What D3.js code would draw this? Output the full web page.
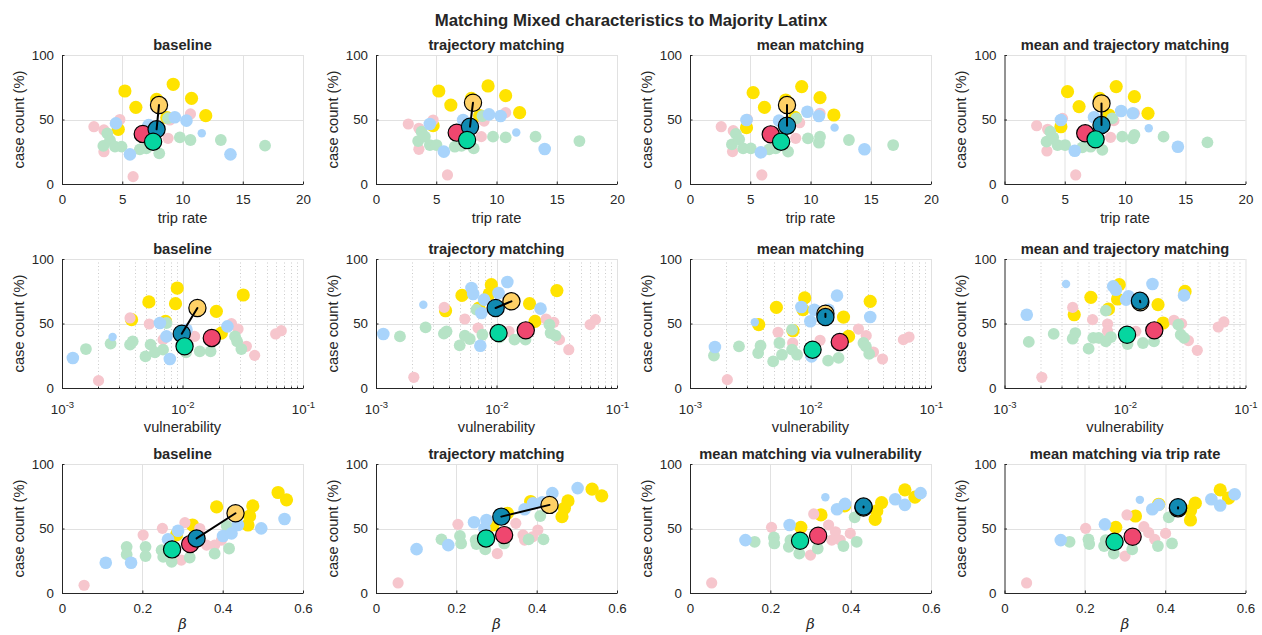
<!DOCTYPE html>
<html>
<head>
<meta charset="utf-8">
<script src="https://cdn.jsdelivr.net/npm/d3@7"></script>
<style>
  body { margin: 0; background: #fff; }
  svg { display: block; }
  text { font-family: "Liberation Sans", Arial, Helvetica, sans-serif; fill: #262626; }
</style>
</head>
<body>
<svg id="chart" width="1262" height="635"></svg>
<script>
// ---------------------------------------------------------------
// Data: each point is [x, case count %, (optional) relative weight]
// Groups: latinx (majority Latinx), mixed, otherA, otherB
// Mean markers per panel: [latinx, mixed, otherA, otherB]
// ---------------------------------------------------------------
const suptitle = "Matching Mixed characteristics to Majority Latinx";
const panelTitles = [
  "baseline", "trajectory matching", "mean matching", "mean and trajectory matching",
  "baseline", "trajectory matching", "mean matching", "mean and trajectory matching",
  "baseline", "trajectory matching", "mean matching via vulnerability", "mean matching via trip rate"
];
const xLabels = ["trip rate", "vulnerability", "\u03B2"];
const yLabel = "case count (%)";
const yTicks = [0, 50, 100];
const tripTicks = [0, 5, 10, 15, 20];
const vulnTicks = [1e-3, 1e-2, 1e-1];
const betaTicks = [0, 0.2, 0.4, 0.6];

// ---- row 1: trip rate ----
const tripBase_latinx = [[5.22,72.1],[9.23,77.3],[6.13,59.4],[10.75,66.4],[11.93,53.0],[7.85,65.6],[4.67,42.4],[8.7,51.5]];
const tripBase_mixed  = [[4.48,47],[5.64,23],[7.2,45.7],[9.36,51.7],[10.33,49.1],[11.6,39.3,0.45],[13.98,23]];
const tripBase_otherA = [[2.65,44.4],[3.48,41.9],[3.48,25],[4.8,50],[5.9,5.7],[8.8,35.4],[8.95,49.6],[10.66,54.3],[6.9,40]];
const tripBase_otherB = [[3.43,29.5],[3.76,39.3],[3.98,34],[4.4,29],[4.94,29],[6.46,26.9],[7.0,27.6],[8.07,23.8],[8.8,51],[9.78,36.2],[10.66,34.1],[13.18,34.1],[16.85,29.7]];
const tripBase_means  = [[8.05,61.2],[7.85,42.4],[6.7,38.8],[7.56,32.8]];

const tripTraj_latinx = [[5.21,72.1],[9.3,76],[6.21,61.2],[10.76,68.5],[11.92,55.3],[7.92,66.4],[4.74,45.2],[8.6,53]];
const tripTraj_mixed  = [[4.47,46.5],[5.63,25.1],[7.23,49.6],[9.38,54],[10.34,52.7],[11.64,40,0.45],[14.0,27.1]];
const tripTraj_otherA = [[2.68,46.5],[3.56,43.2],[3.56,26.9],[4.74,49.6],[5.93,7],[8.74,36.7],[8.97,48.8],[10.76,55.3]];
const tripTraj_otherB = [[3.5,33.3],[3.78,40.6],[4.06,36.7],[4.47,30.2],[5.02,30.2],[6.54,28.9],[7.09,29.5],[8.11,27.6],[8.83,52.7],[9.71,36.7],[10.76,36.2],[13.24,36.7],[16.88,33.3]];
const tripTraj_means  = [[8.05,63],[7.8,44.4],[6.7,39.8],[7.56,34.1]];

const tripMean_latinx = [[5.24,70.8],[9.27,75.5],[6.18,59.4],[10.79,66.9],[11.94,53.5],[7.94,65.1],[4.69,43.7],[8.7,51.7]];
const tripMean_mixed  = [[4.69,49.6],[5.88,24.5],[7.39,49.1],[9.74,56],[10.7,52.7],[12.0,43.7,0.45],[14.48,26.9]];
const tripMean_otherA = [[2.59,44.4],[3.59,41.3],[3.53,25.1],[4.77,50.1],[5.96,7],[8.77,35.4],[9.1,47.5],[10.79,54.8]];
const tripMean_otherB = [[3.48,30.7],[3.81,38.8],[4.08,34.6],[4.41,27.6],[5.05,27.6],[6.57,26.9],[7.12,27.6],[8.14,25.1],[8.83,50.9],[9.79,35.4],[10.7,32],[10.79,36.7],[13.19,34.1],[16.86,30.2]];
const tripMean_means  = [[8.05,61.2],[8.05,45.2],[6.7,38.5],[7.56,32.8]];

const tripBoth_latinx = [[5.23,71.6],[9.27,75.5],[6.19,60],[10.78,67.7],[11.91,54.8],[7.9,66.4],[4.68,44.4],[8.67,53.5]];
const tripBoth_mixed  = [[4.68,49.6],[5.83,25.8],[7.43,51.7],[9.68,56.6],[10.65,54.8],[11.97,43.2,0.45],[14.39,28.9]];
const tripBoth_otherA = [[2.67,45.2],[3.58,42.4],[3.52,25.6],[4.81,50.9],[5.91,7],[8.8,36.2],[9.08,49.1],[10.78,54.8]];
const tripBoth_otherB = [[3.49,32.8],[3.8,40.6],[4.04,36.2],[4.4,30.2],[5.03,30.2],[6.46,28.4],[7.15,28.9],[8.12,26.4],[8.94,50.9],[9.77,36.7],[10.65,35.4],[10.78,38],[13.2,36.7],[16.84,32.3]];
const tripBoth_means  = [[8.05,62.5],[8.05,45.7],[6.7,39.3],[7.56,34.6]];

// ---- row 2: vulnerability ----
const vulnBase_latinx = [[0.00526,66.7],[0.00904,77.5],[0.00875,65.4],[0.0191,59.4],[0.0319,72.1],[0.00378,53],[0.00723,51.7],[0.021,42.6]];
const vulnBase_mixed  = [[0.00123,23.3],[0.00263,39.5,0.45],[0.00649,50.4],[0.00736,40],[0.00785,22.5],[0.0108,45.2],[0.0236,47.8]];
const vulnBase_otherA = [[0.00201,5.7],[0.00367,54.3],[0.0053,49.6],[0.0069,37.5],[0.0126,40],[0.0255,49.9],[0.0289,45.7],[0.0339,32.3],[0.0397,25.3],[0.0593,41.9],[0.066,44.4]];
const vulnBase_otherB = [[0.00158,30.2],[0.00253,34.4],[0.00367,33.6],[0.00386,36.2],[0.00493,24.5],[0.00543,33.6],[0.0059,27.6],[0.0069,29.7],[0.00736,50.4],[0.0107,27.6],[0.0139,28.4],[0.0171,28.4],[0.0273,40],[0.0284,36.2],[0.0308,30.2]];
const vulnBase_means  = [[0.0133,62],[0.00986,42.1],[0.0175,38.8],[0.0104,32.3]];

const vulnTraj_latinx = [[0.00517,71.8],[0.00906,80.1],[0.0087,73],[0.00378,59.9],[0.0188,65.4],[0.0317,75.5],[0.0209,51.7],[0.00716,62]];
const vulnTraj_mixed  = [[0.00115,41.9],[0.00247,64.6,0.45],[0.0062,77.5],[0.0064,72.9],[0.00789,68.5],[0.00749,58.1],[0.00734,32.8],[0.0104,73.6],[0.0123,82.2],[0.0232,61.5]];
const vulnTraj_otherA = [[0.00206,8.3],[0.00368,62.5],[0.00546,53.5],[0.00703,46.5],[0.0127,43.9],[0.0258,53.5],[0.0299,50.9],[0.0333,37.5],[0.0398,29.7],[0.0598,49.1],[0.0662,53]];
const vulnTraj_otherB = [[0.00158,40],[0.00258,47],[0.00366,42.1],[0.00385,43.9],[0.00495,33.1],[0.00546,40.6],[0.006,38],[0.00681,60.7],[0.00764,41.3],[0.0106,39.3],[0.0141,37.5],[0.0174,37.5],[0.0275,49.1],[0.0281,42.6],[0.0309,40.6]];
const vulnTraj_means  = [[0.0133,67.2],[0.00984,62],[0.0175,44.7],[0.0104,42.6]];

const vulnMean_latinx = [[0.00521,62.5],[0.00895,69.8],[0.00867,60.7],[0.0188,55],[0.0313,67.2],[0.00372,49.1],[0.00716,44.4],[0.0207,40]];
const vulnMean_mixed  = [[0.00161,31.8],[0.00345,50.9,0.45],[0.0084,62.8],[0.00997,51.7],[0.01076,60.7],[0.0141,60.7],[0.0166,71.6],[0.0313,55],[0.0102,24.5]];
const vulnMean_otherA = [[0.00204,6.5],[0.00538,43.2],[0.00711,34.9],[0.012,37],[0.025,45.7],[0.029,40.6],[0.0333,27.9],[0.0396,22.5],[0.059,37.5],[0.0657,39.5]];
const vulnMean_otherB = [[0.00158,25.1],[0.00255,32.3],[0.00368,27.1],[0.00385,32.8],[0.0049,20.7],[0.00552,34.9],[0.0058,25.8],[0.00703,45.2],[0.00703,29.7],[0.00773,25.8],[0.014,21.2],[0.0171,23.3],[0.0275,34.9],[0.0288,32.3],[0.0307,26.4]];
const vulnMean_means  = [[0.0133,57.6],[0.0133,55],[0.0175,35.7],[0.0104,29.7]];

const vulnBoth_latinx = [[0.00521,70.3],[0.00896,80.1],[0.00867,69],[0.0188,64.6],[0.0315,74.9],[0.00379,56.8],[0.00729,61.2],[0.0207,50.4]];
const vulnBoth_mixed  = [[0.00153,56.8],[0.00324,80.6,0.45],[0.00798,78.8],[0.0084,76.2],[0.0107,71.1],[0.0102,68.5],[0.0169,80.6],[0.0309,71.8]];
const vulnBoth_otherA = [[0.00204,8.3],[0.00368,62.5],[0.00538,53],[0.00717,49.6],[0.00717,44],[0.0123,43.9],[0.0255,52.5],[0.0295,49.9],[0.0336,36.7],[0.0398,29.2],[0.0594,47.3],[0.0662,51.2]];
const vulnBoth_otherB = [[0.00159,35.7],[0.00256,41.9],[0.00368,38.2],[0.00387,42.6],[0.00499,30.5],[0.00545,38.8],[0.00604,38.8],[0.00693,60],[0.00693,36.2],[0.00764,39.5],[0.0105,34.1],[0.0141,34.9],[0.0174,36.2],[0.0277,49.1],[0.029,41.3],[0.0309,38.8]];
const vulnBoth_means  = [[0.0134,66.4],[0.0133,67.6],[0.0175,44.7],[0.0104,41.3]];

// ---- row 3: beta ----
const betaBase_latinx = [[0.538,77.9],[0.559,72.2],[0.475,67.5],[0.385,66.8],[0.467,59.7],[0.463,52.7],[0.325,52.7],[0.285,45]];
const betaBase_mixed  = [[0.109,23.4],[0.172,23.4],[0.289,48.3],[0.264,41.6],[0.401,44.2],[0.422,46.2],[0.438,52.7],[0.496,50.1],[0.554,57.4]];
const betaBase_otherA = [[0.055,6],[0.202,44.9],[0.25,50.1],[0.306,54.5],[0.297,25.5],[0.343,50],[0.36,37.1],[0.38,37.1],[0.397,41]];
const betaBase_otherB = [[0.161,35.8],[0.161,29.9],[0.208,35.8],[0.208,28.6],[0.248,33.2],[0.252,28],[0.273,24.2],[0.318,27.5],[0.38,30.6],[0.416,34.5],[0.41,52]];
const betaBase_means  = [[0.432,61.8],[0.335,42.3],[0.319,37.9],[0.274,33.8]];

const betaTraj_latinx = [[0.538,80.5],[0.562,75.3],[0.478,71.4],[0.385,70.9],[0.469,65.7],[0.463,59.2],[0.327,61.8],[0.291,52.7]];
const betaTraj_mixed  = [[0.101,34],[0.18,37.1],[0.244,54.8],[0.275,56.6],[0.37,64.9],[0.391,69.6],[0.414,70.4],[0.439,77.4],[0.502,81.3],[0.27,50]];
const betaTraj_otherA = [[0.055,7.8],[0.204,53.2],[0.302,30.6],[0.348,54],[0.366,45],[0.37,41],[0.403,48.8],[0.39,43.6]];
const betaTraj_otherB = [[0.163,41.6],[0.209,44.2],[0.212,38.4],[0.248,41],[0.25,38],[0.272,33.8],[0.319,38.4],[0.38,41.6],[0.417,41.6],[0.409,59.7]];
const betaTraj_means  = [[0.432,68.3],[0.312,59.2],[0.319,44.9],[0.274,42.3]];

const betaVuln_latinx = [[0.535,80],[0.56,74.3],[0.477,70.1],[0.385,67.5],[0.465,63.6],[0.461,57.1],[0.326,60.5],[0.276,50.9]];
const betaVuln_mixed  = [[0.138,41],[0.337,74.3,0.45],[0.248,52.7],[0.366,64.9],[0.386,69.1],[0.511,72.7],[0.535,68.3],[0.574,77.4]];
const betaVuln_otherA = [[0.054,7.8],[0.203,50.9],[0.3,29.4],[0.308,61.3],[0.345,52.7],[0.362,47.5],[0.374,41],[0.399,46.2],[0.353,41]];
const betaVuln_otherB = [[0.161,39.7],[0.209,43.1],[0.21,38.4],[0.246,35.8],[0.25,41],[0.272,30.6],[0.318,34.5],[0.382,36.4],[0.415,39.7],[0.41,58.7]];
const betaVuln_means  = [[0.432,66.2],[0.432,67],[0.319,44.4],[0.274,40.5]];

const betaTrip_latinx = [[0.537,80],[0.558,73.5],[0.475,69.6],[0.384,68.8],[0.463,63.9],[0.463,56.6],[0.326,59.7],[0.277,50.9]];
const betaTrip_mixed  = [[0.14,41],[0.337,72.2,0.45],[0.25,53.2],[0.368,64.9],[0.384,68.3],[0.515,72.7],[0.537,67.8],[0.573,76.6]];
const betaTrip_otherA = [[0.055,7.8],[0.202,50.1],[0.3,28.6],[0.305,60.5],[0.347,51.4],[0.359,46.8],[0.374,41.6],[0.401,46.2]];
const betaTrip_otherB = [[0.162,39.7],[0.209,41.6],[0.211,38],[0.248,36.4],[0.252,41],[0.272,30.6],[0.318,33.8],[0.382,36.4],[0.417,38.4],[0.409,58.7]];
const betaTrip_means  = [[0.432,65.6],[0.432,66.5],[0.319,43.6],[0.274,39.7]];

// ---------------------------------------------------------------
// Layout and styling
// ---------------------------------------------------------------
const colLeft = [62, 376, 690, 1004.5];
const rowTop = [55, 259, 464];
const plotW = 241, plotH = 129;

const pointColor = { latinx: "#ffe300", mixed: "#a9d4fb", otherA: "#f6c6cd", otherB: "#b6e3c6" };
const pointRadius = { latinx: 6.6, mixed: 6.3, otherA: 5.6, otherB: 5.9 };
const meanColor = { latinx: "#ffd166", mixed: "#118ab2", otherA: "#ef476f", otherB: "#06d6a0" };
const drawOrder = ["latinx", "otherA", "otherB", "mixed"];
const meanOrder = [0, 2, 1, 3]; // latinx, otherA, mixed, otherB

const panels = [
  [tripBase_latinx, tripBase_mixed, tripBase_otherA, tripBase_otherB, tripBase_means],
  [tripTraj_latinx, tripTraj_mixed, tripTraj_otherA, tripTraj_otherB, tripTraj_means],
  [tripMean_latinx, tripMean_mixed, tripMean_otherA, tripMean_otherB, tripMean_means],
  [tripBoth_latinx, tripBoth_mixed, tripBoth_otherA, tripBoth_otherB, tripBoth_means],
  [vulnBase_latinx, vulnBase_mixed, vulnBase_otherA, vulnBase_otherB, vulnBase_means],
  [vulnTraj_latinx, vulnTraj_mixed, vulnTraj_otherA, vulnTraj_otherB, vulnTraj_means],
  [vulnMean_latinx, vulnMean_mixed, vulnMean_otherA, vulnMean_otherB, vulnMean_means],
  [vulnBoth_latinx, vulnBoth_mixed, vulnBoth_otherA, vulnBoth_otherB, vulnBoth_means],
  [betaBase_latinx, betaBase_mixed, betaBase_otherA, betaBase_otherB, betaBase_means],
  [betaTraj_latinx, betaTraj_mixed, betaTraj_otherA, betaTraj_otherB, betaTraj_means],
  [betaVuln_latinx, betaVuln_mixed, betaVuln_otherA, betaVuln_otherB, betaVuln_means],
  [betaTrip_latinx, betaTrip_mixed, betaTrip_otherA, betaTrip_otherB, betaTrip_means]
];
const groupKeys = ["latinx", "mixed", "otherA", "otherB"];

const svg = d3.select("#chart");

svg.append("text")
  .attr("x", 631).attr("y", 25.5)
  .attr("text-anchor", "middle")
  .style("font-size", "16.8px").style("font-weight", "bold")
  .text(suptitle);

function makeX(row) {
  if (row === 0) return d3.scaleLinear().domain([0, 20]).range([0, plotW]);
  if (row === 1) return d3.scaleLog().domain([1e-3, 1e-1]).range([0, plotW]);
  return d3.scaleLinear().domain([0, 0.6]).range([0, plotW]);
}
const rowTicks = [tripTicks, vulnTicks, betaTicks];

panels.forEach((p, i) => {
  const row = Math.floor(i / 4), col = i % 4;
  const g = svg.append("g").attr("transform", `translate(${colLeft[col]},${rowTop[row]})`);
  const x = makeX(row);
  const y = d3.scaleLinear().domain([0, 100]).range([plotH, 0]);
  const ticks = rowTicks[row];

  // grid
  const grid = g.append("g");
  if (row === 1) {
    const minors = [];
    [-3, -2].forEach(k => { for (let m = 2; m <= 9; m++) minors.push(m * Math.pow(10, k)); });
    grid.selectAll(".minor").data(minors).join("line")
      .attr("x1", d => Math.round(x(d)) + 0.5).attr("x2", d => Math.round(x(d)) + 0.5)
      .attr("y1", 0).attr("y2", plotH)
      .attr("stroke", "#cbcbcb").attr("stroke-width", 1).attr("stroke-dasharray", "1,2.5");
    // minor ticks on the bottom axis
    grid.selectAll(".mtick").data(minors).join("line")
      .attr("x1", d => Math.round(x(d)) + 0.5).attr("x2", d => Math.round(x(d)) + 0.5)
      .attr("y1", plotH).attr("y2", plotH - 1.5)
      .attr("stroke", "#262626").attr("stroke-width", 1);
  }
  grid.selectAll(".vx").data(ticks.slice(1)).join("line")
    .attr("x1", d => Math.round(x(d)) + 0.5).attr("x2", d => Math.round(x(d)) + 0.5)
    .attr("y1", 0).attr("y2", plotH)
    .attr("stroke", "#e1e1e1").attr("stroke-width", 1);
  grid.selectAll(".hy").data(yTicks.slice(1)).join("line")
    .attr("x1", 0).attr("x2", plotW)
    .attr("y1", d => Math.round(y(d)) + 0.5).attr("y2", d => Math.round(y(d)) + 0.5)
    .attr("stroke", "#e1e1e1").attr("stroke-width", 1);

  // axes
  const xAxis = d3.axisBottom(x).tickValues(ticks).tickSizeInner(-2.5).tickSizeOuter(0).tickPadding(11);
  if (row === 1) xAxis.tickFormat(() => "");
  else xAxis.tickFormat(d3.format("~g"));
  const xg = g.append("g").attr("transform", `translate(0,${plotH})`).call(xAxis);
  xg.selectAll("text").style("font-size", "13.33px").attr("fill", "#262626");
  if (row === 1) {
    xg.selectAll(".tick").append("text")
      .attr("y", 26).attr("text-anchor", "middle").attr("fill", "#262626")
      .style("font-size", "13.33px")
      .each(function (d) {
        const t = d3.select(this);
        t.append("tspan").text("10");
        t.append("tspan").attr("dy", -6).style("font-size", "9.5px").text(String(Math.round(Math.log10(d))));
      });
  }
  const yAxis = d3.axisLeft(y).tickValues(yTicks).tickSizeInner(-2.5).tickSizeOuter(0).tickPadding(8);
  const yg = g.append("g").call(yAxis);
  yg.selectAll("text").style("font-size", "13.33px").attr("fill", "#262626");
  [xg, yg].forEach(a => {
    a.select(".domain").attr("stroke", "#262626");
    a.selectAll(".tick line").attr("stroke", "#262626");
  });

  // labels
  const xLabOffset = [38.5, 44, 36][row];
  const xl = g.append("text")
    .attr("x", plotW / 2).attr("y", plotH + xLabOffset)
    .attr("text-anchor", "middle").style("font-size", "14.67px")
    .text(xLabels[row]);
  if (row === 2) xl.style("font-family", "'DejaVu Serif', 'Liberation Serif', serif").style("font-style", "italic").attr("fill", "#555");
  g.append("text")
    .attr("transform", `translate(-38.5,${plotH / 2}) rotate(-90)`)
    .attr("text-anchor", "middle").style("font-size", "14.67px")
    .text(yLabel);
  g.append("text")
    .attr("x", plotW / 2).attr("y", -5.5)
    .attr("text-anchor", "middle").style("font-size", "14.67px").style("font-weight", "bold")
    .attr("fill", "#000")
    .text(panelTitles[i]);

  // county points
  drawOrder.forEach(key => {
    const pts = p[groupKeys.indexOf(key)];
    g.append("g").selectAll("circle").data(pts).join("circle")
      .attr("cx", d => x(d[0])).attr("cy", d => y(d[1]))
      .attr("r", d => pointRadius[key] * Math.sqrt(d.length > 2 ? d[2] : 1))
      .attr("fill", pointColor[key]);
  });

  // group means
  const means = p[4];
  meanOrder.forEach(k => {
    const key = groupKeys[k];
    g.append("circle")
      .attr("cx", x(means[k][0])).attr("cy", y(means[k][1]))
      .attr("r", 8.6)
      .attr("fill", meanColor[key])
      .attr("stroke", "#000").attr("stroke-width", 1.2);
  });
  g.append("line")
    .attr("x1", x(means[0][0])).attr("y1", y(means[0][1]))
    .attr("x2", x(means[1][0])).attr("y2", y(means[1][1]))
    .attr("stroke", "#000").attr("stroke-width", 2).attr("stroke-linecap", "round");
});
</script>
</body>
</html>
